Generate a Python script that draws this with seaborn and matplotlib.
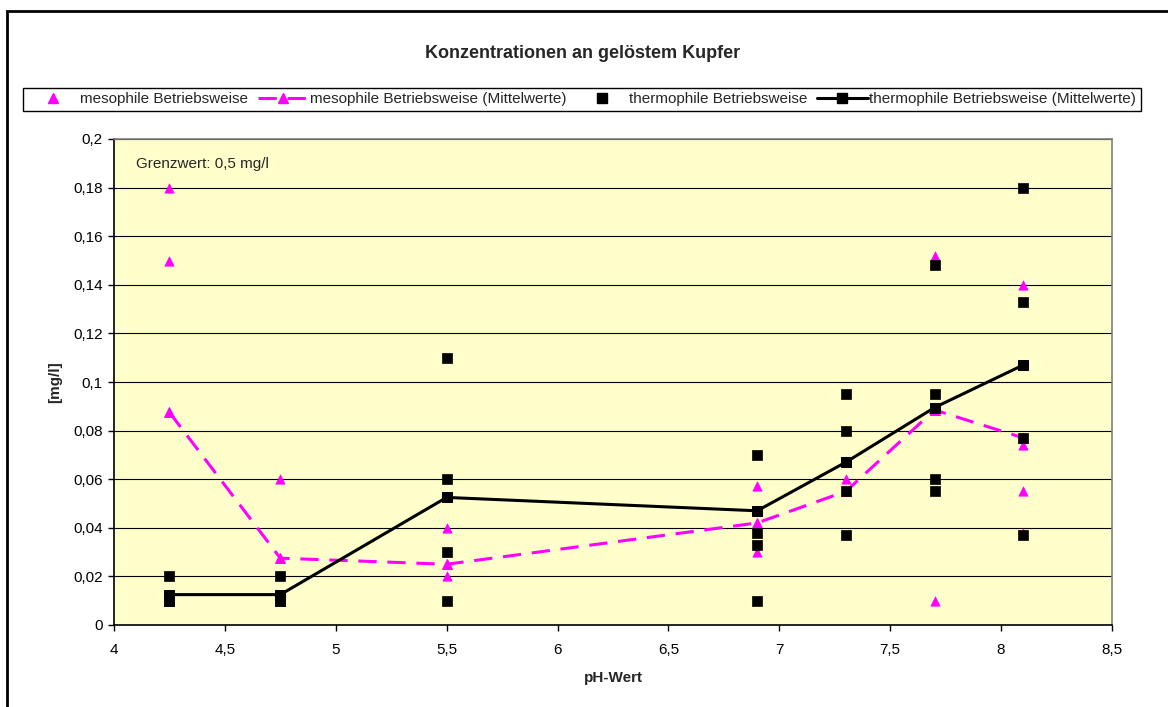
import numpy as np
import pandas as pd
import matplotlib
matplotlib.use("Agg")
import matplotlib.pyplot as plt
from matplotlib.lines import Line2D
from matplotlib.patches import Rectangle
from matplotlib.ticker import FuncFormatter
import seaborn as sns

# ---------------- data ----------------
title = "Konzentrationen an gelöstem Kupfer"
x_label = "pH-Wert"
y_label = "[mg/l]"
note = "Grenzwert: 0,5 mg/l"

series_names = [
    "mesophile Betriebsweise",
    "mesophile Betriebsweise (Mittelwerte)",
    "thermophile Betriebsweise",
    "thermophile Betriebsweise (Mittelwerte)",
]

ph_levels = [4.25, 4.75, 5.5, 6.9, 7.3, 7.7, 8.1]

meso_x = [4.25, 4.25, 4.25, 4.25, 4.75, 5.5, 5.5, 6.9, 6.9, 7.3, 7.7, 7.7, 8.1, 8.1, 8.1, 8.1]
meso_y = [0.18, 0.15, 0.01, 0.01, 0.06, 0.04, 0.02, 0.057, 0.03, 0.06, 0.152, 0.01, 0.14, 0.074, 0.055, 0.038]

meso_mean = [0.0875, 0.0275, 0.025, 0.042, 0.055, 0.0885, 0.0770]

thermo_x = [4.25, 4.25, 4.25, 4.75, 4.75, 4.75, 5.5, 5.5, 5.5, 5.5,
            6.9, 6.9, 6.9, 6.9, 7.3, 7.3, 7.3, 7.3, 7.7, 7.7, 7.7, 7.7,
            8.1, 8.1, 8.1, 8.1]
thermo_y = [0.02, 0.01, 0.01, 0.02, 0.01, 0.01, 0.11, 0.06, 0.03, 0.01,
            0.07, 0.038, 0.033, 0.01, 0.095, 0.08, 0.055, 0.037, 0.148, 0.095, 0.06, 0.055,
            0.18, 0.133, 0.077, 0.037]

thermo_mean = [0.0125, 0.0125, 0.0525, 0.047, 0.067, 0.0895, 0.107]

x_ticks = [4, 4.5, 5, 5.5, 6, 6.5, 7, 7.5, 8, 8.5]
y_ticks = [0, 0.02, 0.04, 0.06, 0.08, 0.1, 0.12, 0.14, 0.16, 0.18, 0.2]

# ---------------- style ----------------
sns.set_style("white")
plt.rcParams["font.family"] = ["Liberation Sans", "DejaVu Sans"]

MAGENTA = "#FF00FF"
BG = "#FFFFCC"

W, H = 1168, 707
fig = plt.figure(figsize=(W / 100, H / 100), dpi=100)
fig.patch.set_facecolor("white")

ax = fig.add_axes([114 / W, 1 - 625 / H, (1112 - 114) / W, (625 - 139) / H])
ax.set_facecolor(BG)

df_meso = pd.DataFrame({"x": meso_x, "y": meso_y})
df_thermo = pd.DataFrame({"x": thermo_x, "y": thermo_y})
df_meso_mean = pd.DataFrame({"x": ph_levels, "y": meso_mean})
df_thermo_mean = pd.DataFrame({"x": ph_levels, "y": thermo_mean})

# grid
for yt in y_ticks[1:]:
    ax.axhline(yt, color="black", lw=0.8, zorder=1)

sns.scatterplot(data=df_meso, x="x", y="y", ax=ax, color=MAGENTA, marker="^",
                s=45, edgecolor=MAGENTA, linewidth=0.5, zorder=3, legend=False)
sns.lineplot(data=df_meso_mean, x="x", y="y", ax=ax, color=MAGENTA, lw=2.2,
             marker="^", markersize=7, markeredgecolor=MAGENTA, markerfacecolor=MAGENTA,
             dashes=(6, 3.5), zorder=4, legend=False, sort=False)
sns.lineplot(data=df_thermo_mean, x="x", y="y", ax=ax, color="black", lw=2.2,
             marker="s", markersize=7, markeredgecolor="black", markerfacecolor="black",
             zorder=5, legend=False, sort=False)
sns.scatterplot(data=df_thermo, x="x", y="y", ax=ax, color="black", marker="s",
                s=45, edgecolor="black", linewidth=0.5, zorder=6, legend=False)

ax.set_xlim(4, 8.5)
ax.set_ylim(0, 0.2)
ax.set_xticks(x_ticks)
ax.set_yticks(y_ticks)


def comma_fmt(v, pos):
    return ("%g" % round(v, 4)).replace(".", ",")


ax.xaxis.set_major_formatter(FuncFormatter(comma_fmt))
ax.yaxis.set_major_formatter(FuncFormatter(comma_fmt))
ax.tick_params(axis="both", which="major", direction="out", length=4, width=1,
               colors="black", labelsize=11, pad=4, left=True, bottom=True)
ax.tick_params(axis="x", pad=9)

for side in ["left", "bottom"]:
    ax.spines[side].set_color("black")
    ax.spines[side].set_linewidth(1.2)
for side in ["top", "right"]:
    ax.spines[side].set_color("#808080")
    ax.spines[side].set_linewidth(1.2)

ax.set_xlabel(x_label, fontsize=11, fontweight="bold", labelpad=10)
ax.set_ylabel(y_label, fontsize=11, fontweight="bold", labelpad=8)

ax.annotate(note, xy=(22 / (1112 - 114), 1 - (164 - 139) / (625 - 139)),
            xycoords="axes fraction", fontsize=11, va="center", ha="left")

fig.text(583 / W, 1 - 53 / H, title, fontsize=13, fontweight="bold",
         ha="center", va="center")

handles = [
    Line2D([], [], ls="none", marker="^", color=MAGENTA, markersize=7),
    Line2D([], [], ls=(0, (6, 3.5)), lw=2.2, marker="^", color=MAGENTA, markersize=7),
    Line2D([], [], ls="none", marker="s", color="black", markersize=7),
    Line2D([], [], ls="-", lw=2.2, marker="s", color="black", markersize=7),
]
leg = fig.legend(handles, series_names, loc="center",
                 bbox_to_anchor=(582 / W, 1 - 99.5 / H), ncol=4, fontsize=11,
                 frameon=True, fancybox=False, edgecolor="black", framealpha=1,
                 handlelength=3.3, handletextpad=0.12, columnspacing=0.65,
                 borderpad=0.3)
leg.get_frame().set_linewidth(1.0)

# outer chart border (left and top visible)
fig.patches.append(Rectangle((7 / W, -0.1), 1.2, 1 - 11 / H + 0.1,
                             transform=fig.transFigure, fill=False,
                             edgecolor="black", lw=2, zorder=10))

fig.savefig("out.png", dpi=100)
